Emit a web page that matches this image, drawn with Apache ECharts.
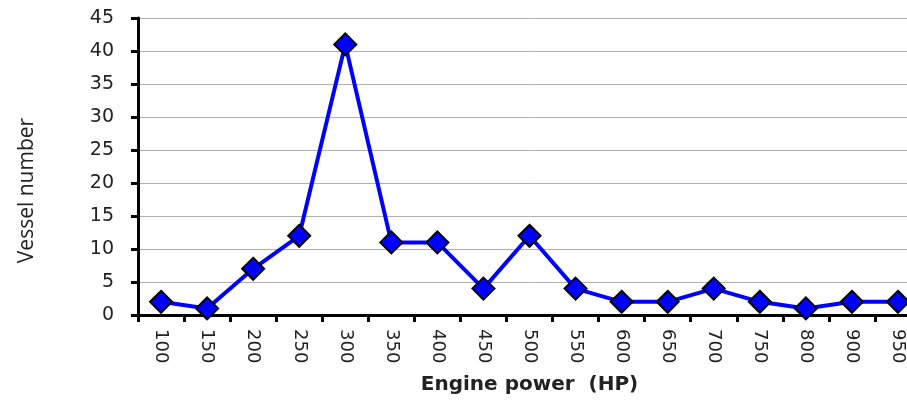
<!DOCTYPE html>
<html>
<head>
<meta charset="utf-8">
<script src="https://cdn.jsdelivr.net/npm/echarts@6/dist/echarts.min.js"></script>
<style>
  html, body { margin: 0; padding: 0; background: #fff; overflow: hidden; }
  /* plot runs past the right edge of the window, like the original */
  #chart { width: 921px; height: 401px; }
</style>
</head>
<body>
<div id="chart"></div>
<script>
// engine power classes (HP)
const powerClasses = ['100', '150', '200', '250', '300', '350', '400', '450', '500',
  '550', '600', '650', '700', '750', '800', '900', '950'];
// number of vessels per class
const vesselCounts = [2, 1, 7, 12, 41, 11, 11, 4, 12, 4, 2, 2, 4, 2, 1, 2, 2];

const chart = echarts.init(document.getElementById('chart'));
chart.setOption({
  animation: false,
  grid: { left: 138, right: 0, top: 18, bottom: 86 },
  xAxis: {
    type: 'category',
    data: powerClasses,
    boundaryGap: true,
    name: 'Engine power  (HP)',
    nameLocation: 'middle',
    nameGap: 60,
    nameTextStyle: { fontFamily: 'DejaVu Sans', fontSize: 20, fontWeight: 'bold', color: '#222' },
    axisLine: { lineStyle: { color: '#000', width: 3 } },
    axisTick: { show: true, length: 7, lineStyle: { color: '#000', width: 3 } },
    axisLabel: { rotate: -90, margin: 14, fontFamily: 'DejaVu Sans', fontSize: 18, color: '#222' }
  },
  yAxis: {
    type: 'value',
    min: 0, max: 45, interval: 5,
    name: 'Vessel number',
    nameLocation: 'middle',
    nameGap: 100,
    // right padding pushes the rotated title a bit lower
    nameTextStyle: { fontFamily: 'Open Sans', fontSize: 21, color: '#222', padding: [0, 48, 0, 0] },
    axisLine: { show: true, lineStyle: { color: '#000', width: 3 } },
    axisTick: { show: true, length: 7, lineStyle: { color: '#000', width: 3 } },
    axisLabel: { margin: 24, fontFamily: 'DejaVu Sans', fontSize: 19, color: '#222' },
    splitLine: { lineStyle: { color: '#b0b0b0', width: 1 } }
  },
  series: [{
    type: 'line',
    data: vesselCounts,
    symbol: 'diamond',
    symbolSize: 22,
    lineStyle: { color: '#0000ff', width: 4 },
    itemStyle: { color: '#0000ff', borderColor: '#000', borderWidth: 2 }
  }]
});
</script>
</body>
</html>
